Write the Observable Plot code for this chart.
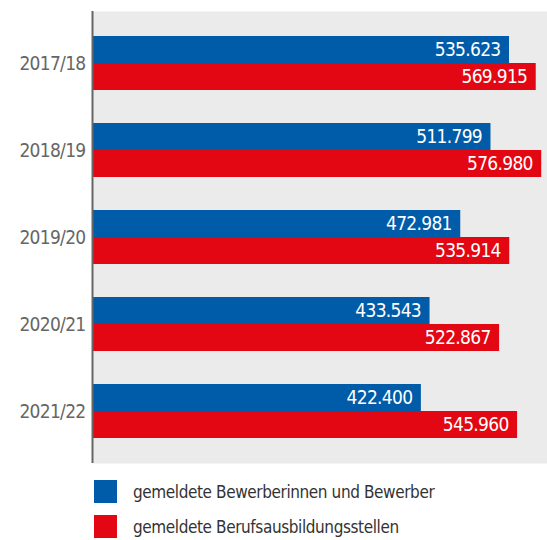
<!DOCTYPE html>
<html>
<head>
<meta charset="utf-8">
<script src="https://cdn.jsdelivr.net/npm/d3@7"></script>
<script src="https://cdn.jsdelivr.net/npm/@observablehq/plot@0.6"></script>
<style>
  body { margin: 0; background: #fff; }
  #chart svg { display: block; }
  #chart svg text { letter-spacing: -0.7px; }
  .legend { margin: 10px 0 0 94px; font-family: "Liberation Sans Narrow", "DejaVu Sans Condensed", sans-serif; font-size: 17px; letter-spacing: -0.4px; color: #333; }
  .legend .row { display: flex; align-items: center; height: 23px; margin-bottom: 12px; }
  .legend .sw { width: 23px; height: 23px; margin-right: 16px; }
</style>
</head>
<body>
<div id="chart"></div>
<script>
const years = ["2017/18", "2018/19", "2019/20", "2020/21", "2021/22"];
const seriesNames = ["gemeldete Bewerberinnen und Bewerber", "gemeldete Berufsausbildungsstellen"];
const seriesColors = ["#005ca9", "#e30613"];
const bewerber = [535623, 511799, 472981, 433543, 422400];
const stellen = [569915, 576980, 535914, 522867, 545960];

const fmt = d3.formatLocale({decimal: ",", thousands: ".", grouping: [3], currency: ["", "€"]}).format(",d");
const font = '"Liberation Sans Narrow", "DejaVu Sans Condensed", sans-serif';

const rows = [];
years.forEach((y, i) => {
  rows.push({year: y, series: 0, value: bewerber[i]});
  rows.push({year: y, series: 1, value: stellen[i]});
});
const blue = rows.filter(d => d.series === 0);
const red = rows.filter(d => d.series === 1);

const chart = Plot.plot({
  width: 547,
  height: 470,
  marginLeft: 92,
  marginRight: 0,
  marginTop: 11,
  marginBottom: 7,
  style: {fontFamily: font, background: "#fff"},
  x: {domain: [0, 584400], axis: null},
  y: {domain: years, paddingInner: 0.383, paddingOuter: 0.274, tickSize: 0, tickPadding: 7, label: null},
  marks: [
    Plot.frame({fill: "#ebebeb", stroke: null}),
    Plot.barX(blue, {x: "value", y: "year", fill: seriesColors[0], insetBottom: 27}),
    Plot.barX(red, {x: "value", y: "year", fill: seriesColors[1], insetTop: 27}),
    Plot.text(blue, {x: "value", y: "year", text: d => fmt(d.value), textAnchor: "end", dx: -9, dy: -13.5, fill: "white", fontSize: 19}),
    Plot.text(red, {x: "value", y: "year", text: d => fmt(d.value), textAnchor: "end", dx: -9, dy: 13.5, fill: "white", fontSize: 19}),
    Plot.ruleX([0], {stroke: "#666", strokeWidth: 2}),
    Plot.axisY({tickSize: 0, tickPadding: 7, fontSize: 19, fill: "#666", label: null})
  ]
});
document.getElementById("chart").appendChild(chart);

const legend = document.createElement("div");
legend.className = "legend";
seriesNames.forEach((name, i) => {
  const row = document.createElement("div");
  row.className = "row";
  const sw = document.createElement("div");
  sw.className = "sw";
  sw.style.background = seriesColors[i];
  const t = document.createElement("span");
  t.textContent = name;
  row.appendChild(sw);
  row.appendChild(t);
  legend.appendChild(row);
});
document.body.appendChild(legend);
</script>
</body>
</html>
